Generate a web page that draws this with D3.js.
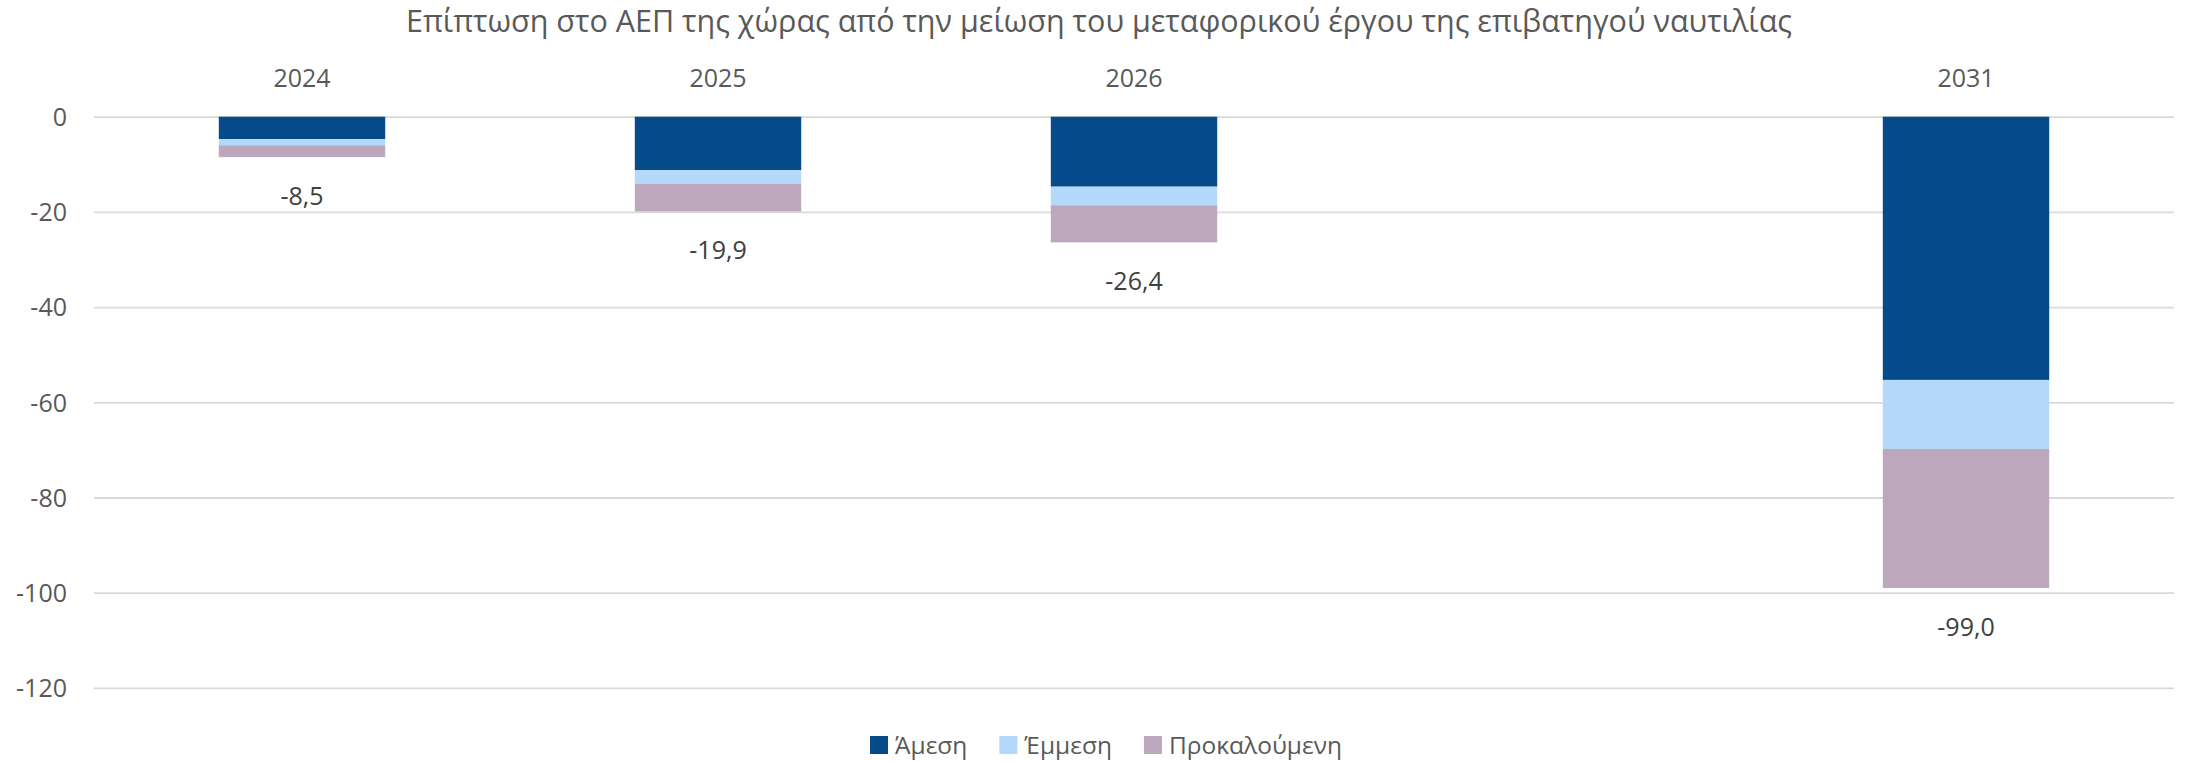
<!DOCTYPE html>
<html lang="el">
<head>
<meta charset="utf-8">
<script src="https://cdn.jsdelivr.net/npm/d3@7/dist/d3.min.js"></script>
<style>
  html, body { margin: 0; padding: 0; background: #fff; }
  svg { display: block; }
  svg text { font-family: "Open Sans", "Noto Sans", sans-serif; }
</style>
</head>
<body>
<svg id="chart" width="2186" height="762"></svg>
<script>
// Impact on GDP (per component), by year; the empty slot keeps the gap before 2031
const categories = ["2024", "2025", "2026", "", "2031"];
const direct     = [-4.7, -11.2, -14.7, null, -55.3];   // Άμεση
const indirect   = [-1.3,  -2.9,  -3.9, null, -14.5];   // Έμμεση
const induced    = [-2.5,  -5.8,  -7.8, null, -29.2];   // Προκαλούμενη
const totals     = [-8.5, -19.9, -26.4, null, -99.0];

const seriesNames  = ["Άμεση", "Έμμεση", "Προκαλούμενη"];
const seriesColors = ["#054A89", "#B5D9FB", "#BDA7BC"];
const yTicks = [0, -20, -40, -60, -80, -100, -120];
const title = "Επίπτωση στο ΑΕΠ της χώρας από την μείωση του μεταφορικού έργου της επιβατηγού ναυτιλίας";

const W = 2186, H = 762;
const plot = { left: 94, right: 2174, top: 116.7, bottom: 687.9 };
const textColor = "#595959";

const svg = d3.select("#chart");

const x = d3.scaleBand().domain(categories).range([plot.left, plot.right]).padding(0);
const y = d3.scaleLinear().domain([-120, 0]).range([plot.bottom, plot.top]);
const barW = x.bandwidth() * 0.4;

const locale = d3.formatLocale({ decimal: ",", thousands: ".", grouping: [3], currency: ["", "€"], minus: "-" });
const fmt1 = locale.format(".1f");
const fmt0 = locale.format("d");

// Gridlines + value axis
const yAxis = svg.append("g")
  .attr("transform", `translate(${plot.left},0)`)
  .call(d3.axisLeft(y).tickValues(yTicks).tickSize(-(plot.right - plot.left)).tickPadding(27).tickFormat(fmt0));
yAxis.attr("font-family", null).attr("font-size", null);
yAxis.select(".domain").remove();
yAxis.selectAll(".tick line").attr("stroke", "#D9D9D9").attr("stroke-width", 1.8);
yAxis.selectAll(".tick text")
  .attr("fill", textColor).style("font-size", "25px").attr("dy", "0.35em");

// Category labels along the top
const xAxis = svg.append("g")
  .attr("transform", `translate(0,${plot.top})`)
  .call(d3.axisTop(x).tickSize(0).tickPadding(0));
xAxis.attr("font-family", null).attr("font-size", null);
xAxis.select(".domain").remove();
xAxis.selectAll(".tick text")
  .attr("fill", textColor).style("font-size", "25px")
  .attr("y", 78.7 - plot.top).attr("dy", "0.35em");

// Stacked bars
const rows = categories.map((c, i) => ({ cat: c, "Άμεση": direct[i], "Έμμεση": indirect[i], "Προκαλούμενη": induced[i], total: totals[i] }))
  .filter(r => r.total !== null);
const stack = d3.stack().keys(seriesNames).offset(d3.stackOffsetDiverging);
const layers = stack(rows);

svg.append("g").selectAll("g")
  .data(layers)
  .join("g")
  .attr("fill", (d, i) => seriesColors[i])
  .selectAll("rect")
  .data(d => d)
  .join("rect")
  .attr("x", d => x(d.data.cat) + (x.bandwidth() - barW) / 2)
  .attr("width", barW)
  .attr("y", d => y(Math.max(d[0], d[1])))
  .attr("height", d => Math.abs(y(d[0]) - y(d[1])));

// Total labels under each bar
svg.append("g").selectAll("text")
  .data(rows)
  .join("text")
  .attr("x", d => x(d.cat) + x.bandwidth() / 2)
  .attr("y", d => y(d.total) + 39)
  .attr("dy", "0.35em")
  .attr("text-anchor", "middle")
  .attr("fill", "#404040")
  .style("font-size", "25px")
  .text(d => fmt1(d.total));

// Title
svg.append("text")
  .attr("x", 1099).attr("y", 32)
  .attr("text-anchor", "middle")
  .attr("fill", textColor)
  .style("font-size", "30.5px")
  .text(title);

// Legend
const legend = svg.append("g");
const sq = 18, gap = 7, itemGap = 32;
let cx = 0;
seriesNames.forEach((name, i) => {
  const g = legend.append("g");
  g.append("rect").attr("x", 0).attr("y", -sq / 2).attr("width", sq).attr("height", sq).attr("fill", seriesColors[i]);
  const t = g.append("text").attr("x", sq + gap).attr("dy", "0.35em")
    .attr("fill", textColor).style("font-size", "24.5px").text(name);
  const w = sq + gap + t.node().getComputedTextLength();
  g.attr("transform", `translate(${cx},0)`);
  cx += w + itemGap;
});
const legendW = cx - itemGap;
legend.attr("transform", `translate(${1106 - legendW / 2},745)`);
</script>
</body>
</html>
